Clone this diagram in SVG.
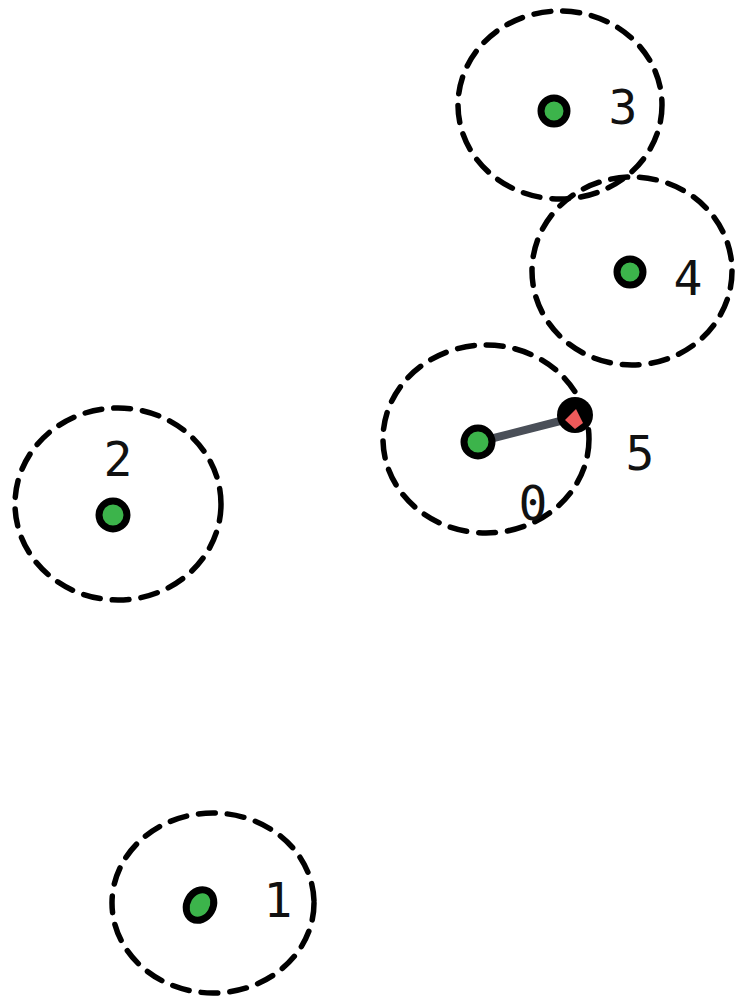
<svg xmlns="http://www.w3.org/2000/svg" width="736" height="1001" viewBox="0 0 736 1001">
<style>
.ring{fill:none;stroke:#000;stroke-width:5.5;stroke-dasharray:17 12;stroke-linecap:round}
.dot{fill:#3cb44b;stroke:#000;stroke-width:7}
.lbl{font-family:"DejaVu Sans Mono",monospace;font-size:48px;fill:#111;text-anchor:middle;dominant-baseline:central}
</style>
<rect width="736" height="1001" fill="#fff"/>
<g id="connectors">
<line x1="478" y1="442" x2="572" y2="418" stroke="#4a4f58" stroke-width="8" stroke-linecap="round"/>
</g>
<g id="node3">
<ellipse class="ring" cx="560" cy="105" rx="102" ry="94"/>
<circle class="dot" cx="554" cy="111" r="13"/>
<text class="lbl" x="623" y="107">3</text>
</g>
<g id="node4">
<ellipse class="ring" cx="632" cy="271" rx="100" ry="94"/>
<circle class="dot" cx="630" cy="272" r="13"/>
<text class="lbl" x="688" y="278">4</text>
</g>
<g id="node5">
<ellipse class="ring" cx="486" cy="439" rx="103" ry="94"/>
<circle class="dot" cx="478" cy="442" r="14"/>
<circle cx="575" cy="415" r="18" fill="#000"/>
<path d="M565 420 L576 409 L583 423 L575 429 Z" fill="#ef5a5a"/>
<text class="lbl" x="640" y="453">5</text>
<text class="lbl" x="533" y="503">0</text>
</g>
<g id="node2">
<ellipse class="ring" cx="118" cy="504" rx="103" ry="96"/>
<circle class="dot" cx="113" cy="515" r="14"/>
<text class="lbl" x="118" y="459">2</text>
</g>
<g id="node1">
<ellipse class="ring" cx="213" cy="903" rx="101" ry="90"/>
<ellipse class="dot" cx="200" cy="905" rx="13" ry="16" transform="rotate(30 200 905)"/>
<text class="lbl" x="278" y="900">1</text>
</g>
</svg>
